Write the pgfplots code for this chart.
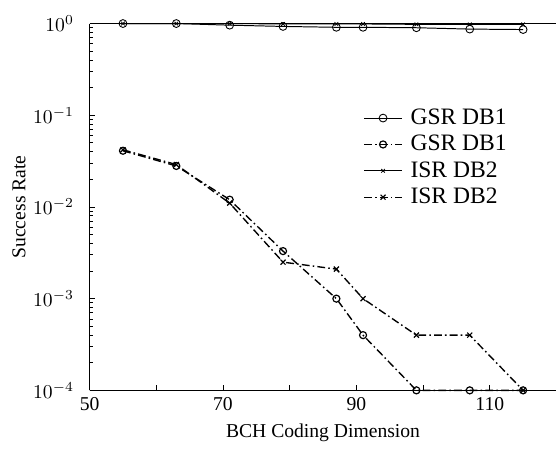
\documentclass[border=0pt]{standalone}
\usepackage{fontspec}
\setmainfont{Liberation Serif}
\usepackage{pgfplots}
\pgfplotsset{compat=1.18}
\begin{document}
\begin{tikzpicture}
\begin{axis}[
  scale only axis,
  width=238pt, height=187pt,
  ymode=log,
  xmin=50, xmax=120,
  ymin=1e-4, ymax=1,
  axis lines*=left,
  axis line style={line width=0.55pt},
  clip=false,
  xtick={50,60,70,80,90,100,110},
  xticklabels={50,,70,,90,,110},
  xticklabel style={/pgf/number format/assume math mode=true},
  yticklabel style={xshift=-4.5pt},
  ytick={1e-4,1e-3,1e-2,1e-1,1},
  tick style={line width=0.45pt, black},
  major tick length=2.5pt, minor tick length=1.6pt,
  tick align=inside,
  font=\normalsize,
  xlabel={BCH Coding Dimension},
  ylabel={Success Rate},
  ylabel style={yshift=-3pt},
  legend style={draw=none, fill=none, at={(rel axis cs:0.573,0.79)}, anchor=north west,
     font=\large, row sep=0pt, legend cell align=left,
     /tikz/every odd column/.append style={column sep=2pt}},
  legend image code/.code={\draw[mark repeat=2,mark phase=2,#1] plot coordinates {(0cm,0cm) (0.34cm,0cm) (0.68cm,0cm)};},
]
\addplot[black, line width=0.5pt, mark=o, mark size=2pt, mark options={solid, line width=0.45pt}] coordinates {
(55,1) (63,1) (71,0.96) (79,0.93) (87,0.91) (91,0.91) (99,0.9) (107,0.87) (115,0.86)};
\addlegendentry{GSR DB1}
\addplot[black, line width=0.7pt, dash pattern=on 4pt off 1.6pt on 0.8pt off 1.6pt, mark=o, mark size=1.8pt, mark options={solid, line width=0.6pt}] coordinates {
(55,0.041) (63,0.028) (71,0.012) (79,0.0033) (87,0.001) (91,0.0004) (99,0.0001) (107,0.0001) (115,0.0001)};
\addlegendentry{GSR DB1}
\addplot[black, line width=0.5pt, mark=x, mark size=1.3pt, mark options={solid, line width=0.4pt}] coordinates {
(55,1) (63,1) (71,1) (79,0.99) (87,0.99) (91,0.99) (99,0.98) (107,0.98) (115,0.98)};
\addlegendentry{ISR DB2}
\addplot[black, line width=0.7pt, dash pattern=on 4pt off 1.6pt on 0.8pt off 1.6pt, mark=x, mark size=1.8pt, mark options={solid, line width=0.6pt}] coordinates {
(55,0.042) (63,0.029) (71,0.011) (79,0.0025) (87,0.0021) (91,0.001) (99,0.0004) (107,0.0004) (115,0.0001)};
\addlegendentry{ISR DB2}
\draw[line width=0.55pt] (rel axis cs:0,1) -- (rel axis cs:1,1);
\end{axis}
\path (current bounding box.north) ++(0,4.6pt);
\path (current bounding box.south) ++(0,-0.6pt);
\path (current bounding box.west) ++(-3pt,0);
\end{tikzpicture}
\end{document}
